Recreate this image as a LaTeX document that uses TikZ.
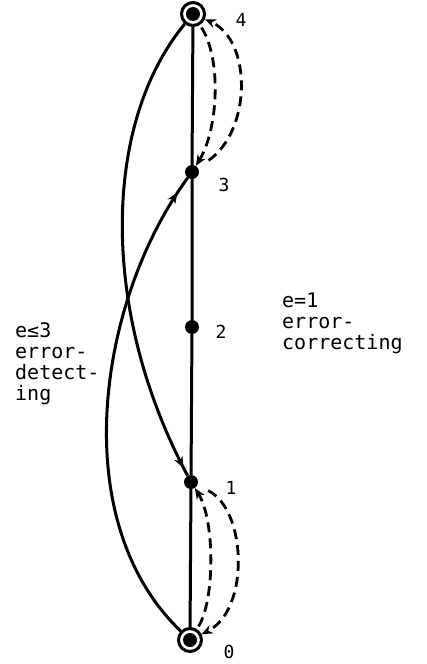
\documentclass[tikz,border=0pt]{standalone}
\usepackage{fontspec}
\setmonofont{DejaVu Sans Mono}
\usetikzlibrary{arrows.meta,decorations.markings}
\begin{document}
\begin{tikzpicture}[x=1pt,y=-1pt,
  edge/.style={line width=3pt},
  dashline/.style={line width=2.8pt,dash pattern=on 10pt off 6pt},
  dot/.style={circle,fill=black,inner sep=0pt,minimum size=14pt},
  term/.style={circle,draw,line width=3pt,fill=white,inner sep=0pt,minimum size=23pt,
    path picture={\fill[black] (path picture bounding box.center) circle (7pt);}},
  num/.style={font=\ttfamily\fontsize{18}{18}\selectfont,inner sep=0pt},
  note/.style={font=\ttfamily\fontsize{20}{21}\selectfont,align=left,inner sep=0pt,anchor=north west},
  tip/.style={-{Stealth[length=11pt,width=9pt]}},
  midtip/.style={postaction={decorate},decoration={markings,
    mark=at position #1 with {\arrow{Stealth[length=11pt,width=9pt]}}}},
]
\useasboundingbox (0,0) rectangle (426,664);
% vertices
\node[term] (n4) at (193,14) {};
\node[dot]  (n3) at (192,172) {};
\node[dot]  (n2) at (192,327) {};
\node[dot]  (n1) at (191,482) {};
\node[term] (n0) at (190,640) {};
% vertex labels
\node[num] (l4) at (241,20) {4};
\node[num] (l3) at (224,185) {3};
\node[num] (l2) at (221,332) {2};
\node[num] (l1) at (231,488) {1};
\node[num] (l0) at (229,652) {0};
% notes
\node[note] (left)  at (15,322) {e≤3\\error-\\detect-\\ing};
\node[note] (right) at (282,293) {e=1\\error-\\correcting};
% straight chain
\draw[edge] (n4) -- (n3) -- (n2) -- (n1) -- (n0);
% long solid arcs
\draw[edge,midtip=-9pt] (n4) .. controls (102,124) and (100,312) .. (n1);
\draw[edge,midtip=-18pt] (n0) .. controls (65,520) and (98,300) .. (n3);
% dashed loops top
\draw[dashline,tip,shorten <=13pt] (n3) .. controls (252,130) and (252,40) .. (n4);
\draw[dashline,tip,shorten <=3pt] (n4) .. controls (222,60) and (218,130) .. (n3);
% dashed loops bottom
\draw[dashline,tip,shorten <=12pt] (n1) .. controls (247,510) and (250,610) .. (n0);
\draw[dashline,tip,shorten <=3pt] (n0) .. controls (215,600) and (215,520) .. (n1);
\end{tikzpicture}
\end{document}
